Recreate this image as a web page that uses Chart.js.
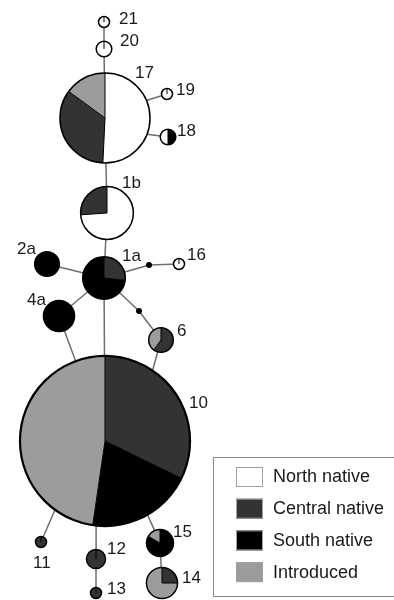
<!DOCTYPE html>
<html><head><meta charset="utf-8">
<script src="https://cdn.jsdelivr.net/npm/chart.js@4.4.1/dist/chart.umd.min.js"></script>
<style>html,body{margin:0;padding:0;background:#fff;overflow:hidden}#wrap{position:relative;width:394px;height:600px}</style>
</head><body><div id="wrap"><canvas id="c" width="394" height="600"></canvas></div>
<script>
// ---- data ----
const categories = ['North native', 'Central native', 'South native', 'Introduced'];
const haplotypes = ['21','20','17','19','18','1b','1a','2a','4a','16','6','10','11','12','13','15','14'];
const north      = [1, 2, 34, 1, 1, 17, 0, 0, 0, 1, 0,   0, 0, 0, 0, 0, 0];
const central    = [0, 0, 23, 0, 0,  6, 4, 0, 0, 0, 3,  77, 1, 3, 1, 0, 2];
const south      = [0, 0,  0, 0, 1,  0, 11, 5, 8, 0, 0, 48, 0, 0, 0, 5, 0];
const introduced = [0, 0, 10, 0, 0,  0, 0, 0, 0, 0, 2, 114, 0, 0, 0, 1, 6];
// network layout (node coordinates of the drawn network)
const nodeX = [104, 104, 105, 167, 168, 107, 104,  47,  59, 179, 161, 105,  41,  96,  96, 160, 162];
const nodeY = [ 22,  49, 118,  94, 137, 213, 278, 264, 316, 264, 340, 441, 542, 559, 593, 543, 583];
// median vectors (missing haplotypes)
const medianIds = ['mv1', 'mv2'];
const medianX = [149, 139];
const medianY = [265, 311];
// edges: [from, to, attach angle on "to" rim (deg, clockwise from top) or null = centre]
const edges = [
  ['21','20',null], ['20','17',null], ['19','17',67], ['18','17',111],
  ['1b','17',null], ['1a','1b',null], ['2a','1a',null], ['4a','1a',null],
  ['mv1','1a',null], ['16','mv1',null], ['mv2','1a',null], ['6','mv2',null],
  ['1a','10',null], ['4a','10',null], ['6','10',34], ['11','10',216],
  ['12','10',186], ['13','12',null], ['15','10',150], ['14','15',null]
];

// ---- styles ----
const colors = ['#ffffff', '#333333', '#000000', '#9c9c9c'];
const K = 5.5; // radius = K * sqrt(count)
const startRot = {'18': 180};
const labelOffset = {
  '21':[15,-3], '20':[16,-8], '17':[30,-45], '19':[9,-4], '18':[9,-6],
  '1b':[15,-30], '1a':[18,-22], '2a':[-30,-15], '4a':[-32,-16], '16':[8,-9],
  '6':[16,-9], '10':[84,-38], '11':[-8,21], '12':[11,-10], '13':[11,-4],
  '15':[13,-11], '14':[20,-5]
};

const series = [north, central, south, introduced];
const totals = haplotypes.map((h, i) => series.reduce((s, a) => s + a[i], 0));
const radii = totals.map(t => K * Math.sqrt(t));
const pos = {};
haplotypes.forEach((h, i) => pos[h] = {x: nodeX[i], y: nodeY[i], r: radii[i]});
medianIds.forEach((m, i) => pos[m] = {x: medianX[i], y: medianY[i], r: 3});

const edgeDatasets = edges.map(([a, b, ang]) => {
  const A = pos[a], B = pos[b];
  let end = {x: B.x, y: B.y};
  if (ang !== null) {
    const t = ang * Math.PI / 180;
    end = {x: B.x + B.r * Math.sin(t), y: B.y - B.r * Math.cos(t)};
  }
  return {
    type: 'line', data: [{x: A.x, y: A.y}, end], borderColor: '#6e6e6e',
    borderWidth: 1.5, pointRadius: 0, showLine: true, fill: false, order: 10
  };
});

const nodeDataset = {
  type: 'bubble', label: 'haplotypes',
  data: haplotypes.map((h, i) => ({x: nodeX[i], y: nodeY[i], r: radii[i]})),
  backgroundColor: 'rgba(0,0,0,0)', borderWidth: 0, order: 0
};
const medianDataset = {
  type: 'bubble', label: 'median',
  data: medianIds.map((m, i) => ({x: medianX[i], y: medianY[i], r: 3})),
  backgroundColor: '#000', borderWidth: 0, order: 0
};

const piePlugin = {
  id: 'pies',
  afterDatasetsDraw(chart) {
    const ctx = chart.ctx;
    const meta = chart.getDatasetMeta(0);
    ctx.save();
    meta.data.forEach((el, i) => {
      const x = el.x, y = el.y, r = el.options.radius;
      const h = haplotypes[i];
      const tot = totals[i];
      let a = -Math.PI / 2 + (startRot[h] || 0) * Math.PI / 180;
      const bounds = [];
      series.forEach((arr, k) => {
        const v = arr[i];
        if (!v) return;
        const a2 = a + v / tot * Math.PI * 2;
        ctx.beginPath(); ctx.moveTo(x, y); ctx.arc(x, y, r, a, a2); ctx.closePath();
        ctx.fillStyle = colors[k]; ctx.fill();
        bounds.push(a);
        a = a2;
      });
      ctx.strokeStyle = '#000'; ctx.lineWidth = 1;
      bounds.forEach(b => {
        ctx.beginPath(); ctx.moveTo(x, y);
        ctx.lineTo(x + r * Math.cos(b), y + r * Math.sin(b)); ctx.stroke();
      });
      ctx.beginPath(); ctx.arc(x, y, r, 0, Math.PI * 2);
      ctx.lineWidth = r > 60 ? 2.2 : 1.5; ctx.stroke();
      // label
      const off = labelOffset[h];
      ctx.fillStyle = '#1a1a1a'; ctx.font = '17px "Liberation Sans", Arial, sans-serif';
      ctx.textBaseline = 'middle'; ctx.textAlign = 'left';
      ctx.fillText(h, x + off[0], y + off[1]);
    });
    // legend
    const lx = 213.5, ly = 457.5, lw = 185, lh = 139;
    ctx.strokeStyle = '#8a8a8a'; ctx.lineWidth = 1;
    ctx.strokeRect(lx, ly, lw, lh);
    categories.forEach((c, k) => {
      const sy = 467 + k * 31.7;
      ctx.fillStyle = colors[k]; ctx.fillRect(236, sy, 27, 20);
      ctx.strokeStyle = '#a0a0a0'; ctx.strokeRect(236.5, sy + 0.5, 26, 19);
      ctx.fillStyle = '#1a1a1a'; ctx.font = '18px "Liberation Sans", Arial, sans-serif';
      ctx.textBaseline = 'middle';
      ctx.fillText(c, 273, sy + 10.5);
    });
    ctx.restore();
  }
};

new Chart(document.getElementById('c'), {
  type: 'scatter',
  data: {datasets: [nodeDataset, medianDataset, ...edgeDatasets]},
  options: {
    responsive: false, animation: false, events: [],
    layout: {padding: 0, autoPadding: false},
    plugins: {legend: {display: false}, tooltip: {enabled: false}},
    scales: {
      x: {type: 'linear', min: 0, max: 394, display: false},
      y: {type: 'linear', min: 0, max: 600, reverse: true, display: false}
    }
  },
  plugins: [piePlugin]
});
</script></body></html>
